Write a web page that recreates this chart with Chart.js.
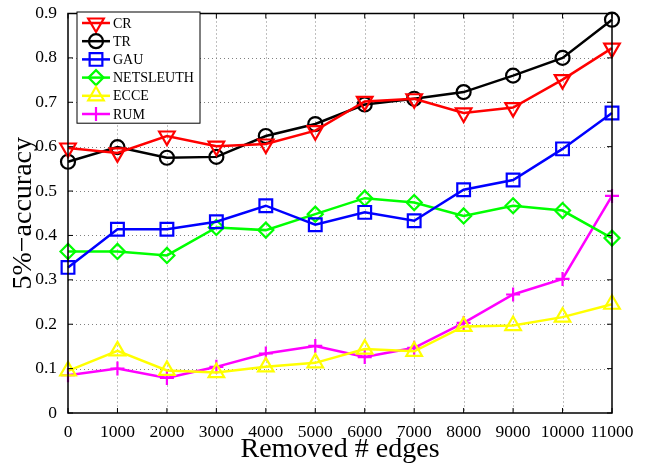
<!DOCTYPE html>
<html lang="en">
<head>
    <meta charset="UTF-8">
    <title>5%-accuracy vs removed edges</title>
    <script src="https://cdn.jsdelivr.net/npm/chart.js"></script>
    <style>
        body { margin: 0; background: #fff; }
        #wrap { width: 656px; height: 463px; }
    </style>
</head>
<body>
    <div id="wrap"><canvas id="accChart"></canvas></div>

    <script>
        // Removed # edges (x values)
        const removedEdges = [0, 1000, 2000, 3000, 4000, 5000, 6000, 7000, 8000, 9000, 10000, 11000];

        // 5%-accuracy per method
        const crValues        = [0.597, 0.586, 0.624, 0.601, 0.606, 0.636, 0.702, 0.708, 0.676, 0.688, 0.751, 0.822];
        const trValues        = [0.566, 0.599, 0.575, 0.577, 0.624, 0.651, 0.695, 0.708, 0.723, 0.760, 0.800, 0.886];
        const gauValues       = [0.328, 0.414, 0.414, 0.431, 0.467, 0.424, 0.452, 0.433, 0.503, 0.525, 0.595, 0.676];
        const netsleuthValues = [0.364, 0.364, 0.355, 0.418, 0.412, 0.448, 0.484, 0.474, 0.444, 0.467, 0.456, 0.394];
        const ecceValues      = [0.095, 0.140, 0.096, 0.091, 0.104, 0.113, 0.144, 0.139, 0.195, 0.197, 0.216, 0.245];
        const rumValues       = [0.085, 0.100, 0.079, 0.104, 0.134, 0.151, 0.126, 0.147, 0.203, 0.267, 0.302, 0.489];

        const yTicks = [0, 0.1, 0.2, 0.3, 0.4, 0.5, 0.6, 0.7, 0.8, 0.9];

        const FONT = "'Liberation Serif', 'Times New Roman', serif";

        function makeSeries(label, values, color, style, radius, rotation) {
            return {
                label: label,
                data: values.map((v, i) => ({ x: removedEdges[i], y: v })),
                borderColor: color,
                backgroundColor: 'rgba(0,0,0,0)',
                borderWidth: 2.5,
                pointStyle: style,
                pointRadius: radius,
                pointHoverRadius: radius,
                pointRotation: rotation || 0,
                pointBorderWidth: 2.2,
                pointBorderColor: color,
                pointBackgroundColor: 'rgba(0,0,0,0)',
                tension: 0,
                clip: false
            };
        }

        const datasets = [
            makeSeries('CR', crValues, '#ff0000', 'triangle', 9, 180),
            makeSeries('TR', trValues, '#000000', 'circle', 7),
            makeSeries('GAU', gauValues, '#0000ff', 'rect', 9),
            makeSeries('NETSLEUTH', netsleuthValues, '#00ff00', 'rectRot', 7.5),
            makeSeries('ECCE', ecceValues, '#ffff00', 'triangle', 9),
            makeSeries('RUM', rumValues, '#ff00ff', 'cross', 7)
        ];

        // dotted grid, drawn under the lines (skips the box edges)
        const dottedGrid = {
            id: 'dottedGrid',
            beforeDatasetsDraw(chart) {
                const ctx = chart.ctx;
                const a = chart.chartArea;
                const xs = chart.scales.x, ys = chart.scales.y;
                ctx.save();
                ctx.strokeStyle = '#808080';
                ctx.lineWidth = 1;
                ctx.setLineDash([1, 3]);
                ctx.beginPath();
                removedEdges.slice(1, -1).forEach(v => {
                    const px = Math.round(xs.getPixelForValue(v)) + 0.5;
                    ctx.moveTo(px, a.top); ctx.lineTo(px, a.bottom);
                });
                yTicks.slice(1, -1).forEach(v => {
                    const py = Math.round(ys.getPixelForValue(v)) + 0.5;
                    ctx.moveTo(a.left, py); ctx.lineTo(a.right, py);
                });
                ctx.stroke();
                ctx.restore();
            }
        };

        // MATLAB-like frame: black box with inward ticks, plus boxed legend
        const framePlugin = {
            id: 'matlabFrame',
            afterDraw(chart) {
                const ctx = chart.ctx;
                const a = chart.chartArea;
                const xs = chart.scales.x, ys = chart.scales.y;
                ctx.save();
                ctx.strokeStyle = '#000';
                ctx.lineWidth = 1.5;
                ctx.strokeRect(a.left, a.top, a.right - a.left, a.bottom - a.top);
                ctx.lineWidth = 1;
                const t = 5;
                ctx.beginPath();
                removedEdges.forEach(v => {
                    const px = xs.getPixelForValue(v);
                    ctx.moveTo(px, a.bottom); ctx.lineTo(px, a.bottom - t);
                    ctx.moveTo(px, a.top); ctx.lineTo(px, a.top + t);
                });
                yTicks.forEach(v => {
                    const py = ys.getPixelForValue(v);
                    ctx.moveTo(a.left, py); ctx.lineTo(a.left + t, py);
                    ctx.moveTo(a.right, py); ctx.lineTo(a.right - t, py);
                });
                ctx.stroke();

                // legend box
                const lx = 77, ly = 12, lw = 123, rowH = 18.2;
                const lh = rowH * chart.data.datasets.length + 2;
                ctx.fillStyle = '#fff';
                ctx.fillRect(lx, ly, lw, lh);
                ctx.lineWidth = 1;
                ctx.strokeRect(lx, ly, lw, lh);
                ctx.font = '14px ' + FONT;
                ctx.textBaseline = 'middle';
                chart.data.datasets.forEach((ds, i) => {
                    const cy = ly + 11 + i * rowH;
                    ctx.strokeStyle = ds.borderColor;
                    ctx.lineWidth = ds.borderWidth;
                    ctx.beginPath();
                    ctx.moveTo(lx + 5, cy);
                    ctx.lineTo(lx + 33, cy);
                    ctx.stroke();
                    ctx.fillStyle = 'rgba(0,0,0,0)';
                    ctx.lineWidth = ds.pointBorderWidth;
                    Chart.helpers.drawPoint(ctx, {
                        pointStyle: ds.pointStyle,
                        radius: ds.pointRadius,
                        rotation: ds.pointRotation,
                        borderWidth: ds.pointBorderWidth
                    }, lx + 19, cy);
                    ctx.fillStyle = '#000';
                    ctx.fillText(ds.label, lx + 36, cy + 1);
                });
                ctx.restore();
            }
        };

        const ctx = document.getElementById('accChart').getContext('2d');
        new Chart(ctx, {
            type: 'line',
            data: { datasets: datasets },
            options: {
                responsive: true,
                maintainAspectRatio: false,
                animation: false,
                events: [],
                layout: { padding: { top: 12, right: 44, left: 0, bottom: 0 } },
                plugins: {
                    legend: { display: false },
                    tooltip: { enabled: false }
                },
                scales: {
                    x: {
                        type: 'linear',
                        min: 0,
                        max: 11000,
                        afterFit(scale) { scale.height = 50; },
                        afterBuildTicks(scale) { scale.ticks = removedEdges.map(v => ({ value: v })); },
                        ticks: {
                            color: '#000',
                            font: { family: FONT, size: 17.5 },
                            padding: 1,
                            maxRotation: 0,
                            autoSkip: false,
                            callback: v => String(v)
                        },
                        grid: { display: false },
                        border: { display: false },
                        title: {
                            display: true,
                            text: 'Removed # edges',
                            color: '#000',
                            font: { family: FONT, size: 28, lineHeight: 0.95 },
                            padding: { top: 0, bottom: 0 }
                        }
                    },
                    y: {
                        min: 0,
                        max: 0.9,
                        afterFit(scale) { scale.width = 68; },
                        afterBuildTicks(scale) { scale.ticks = yTicks.map(v => ({ value: v })); },
                        ticks: {
                            color: '#000',
                            font: { family: FONT, size: 17.5 },
                            padding: 3,
                            callback: v => (v === 0 ? '0' : v.toFixed(1))
                        },
                        grid: { display: false },
                        border: { display: false },
                        title: {
                            display: true,
                            text: '5%\u2212accuracy',
                            color: '#000',
                            font: { family: FONT, size: 28 },
                            padding: { top: 7, bottom: 0 }
                        }
                    }
                }
            },
            plugins: [dottedGrid, framePlugin]
        });
    </script>
</body>
</html>
